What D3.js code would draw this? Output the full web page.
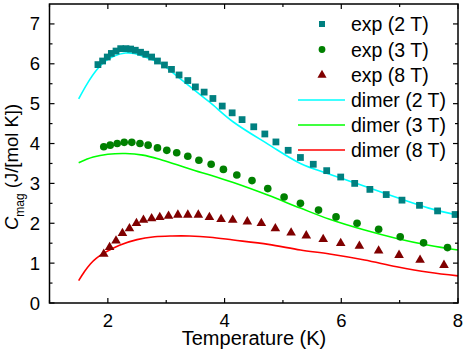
<!DOCTYPE html>
<html>
<head>
<meta charset="utf-8">
<script src="https://cdn.jsdelivr.net/npm/d3@7"></script>
<style>
  body { margin: 0; background: #fff; }
  text { font-family: "Liberation Sans", Arial, sans-serif; fill: #000; }
</style>
</head>
<body>
<script>
// experimental points (T in K, C in J/[mol K])
var exp2T_T = [1.83,1.91,1.99,2.06,2.14,2.22,2.31,2.39,2.47,2.56,2.65,2.75,2.85,2.97,3.09,3.22,3.37,3.50,3.65,3.80,3.96,4.13,4.30,4.50,4.69,4.88,5.09,5.30,5.52,5.75,5.99,6.23,6.49,6.77,7.04,7.34,7.65,7.95];
var exp2T_C = [5.98,6.07,6.17,6.26,6.32,6.38,6.38,6.37,6.34,6.29,6.24,6.17,6.07,5.97,5.86,5.72,5.58,5.42,5.29,5.13,4.94,4.77,4.60,4.42,4.24,4.04,3.83,3.65,3.48,3.32,3.16,3.00,2.85,2.72,2.58,2.45,2.31,2.22];

var exp3T_T = [1.93,2.04,2.16,2.28,2.41,2.55,2.69,2.85,3.01,3.18,3.37,3.56,3.77,3.98,4.21,4.47,4.74,5.02,5.30,5.61,5.91,6.27,6.64,7.01,7.41,7.82];
var exp3T_C = [3.92,3.96,4.00,4.03,4.03,4.00,3.96,3.89,3.83,3.77,3.68,3.58,3.48,3.35,3.21,3.07,2.87,2.66,2.50,2.33,2.16,2.00,1.85,1.66,1.51,1.39];

var exp8T_T = [1.93,2.03,2.14,2.25,2.37,2.49,2.61,2.75,2.89,3.04,3.20,3.37,3.55,3.74,3.94,4.14,4.39,4.63,4.87,5.14,5.40,5.69,5.99,6.31,6.64,6.99,7.35,7.76];
var exp8T_C = [1.23,1.40,1.56,1.75,1.87,2.00,2.08,2.12,2.15,2.18,2.21,2.21,2.21,2.15,2.10,2.08,2.04,2.00,1.87,1.76,1.69,1.60,1.50,1.43,1.31,1.20,1.08,0.95];

// dimer model curves
var dim2T_T = [1.5,1.65,1.8,1.95,2.1,2.3,2.45,2.6,2.9,3.2,3.5,3.75,4.15,4.75,5.3,5.8,6.4,7.0,7.5,8.0];
var dim2T_C = [5.12,5.51,5.83,6.06,6.19,6.27,6.26,6.19,6.01,5.67,5.32,5.03,4.54,3.98,3.50,3.23,2.93,2.62,2.38,2.20];

var dim3T_T = [1.5,1.75,2.0,2.3,2.6,2.9,3.2,3.5,3.75,4.15,4.75,5.3,5.8,6.4,6.95,7.5,8.0];
var dim3T_C = [3.52,3.66,3.73,3.75,3.71,3.60,3.46,3.32,3.21,3.02,2.70,2.38,2.10,1.83,1.62,1.45,1.33];

var dim8T_T = [1.5,1.6,1.7,1.8,1.93,2.2,2.5,2.8,3.1,3.4,3.75,4.15,4.75,5.3,5.8,6.4,6.95,7.5,8.0];
var dim8T_C = [0.56,0.79,0.98,1.12,1.25,1.45,1.59,1.66,1.68,1.68,1.65,1.58,1.47,1.33,1.23,1.08,0.91,0.77,0.68];

var xTicks = [2,4,6,8];
var yTicks = [0,1,2,3,4,5,6,7];
var legendLabels = ["exp (2 T)","exp (3 T)","exp (8 T)","dimer (2 T)","dimer (3 T)","dimer (8 T)"];

var W = 469, H = 351;
var mLeft = 49.5, mRight = 458, mTop = 4, mBottom = 303;

var svg = d3.select("body").append("svg")
  .attr("width", W).attr("height", H);

var x = d3.scaleLinear().domain([1, 8]).range([mLeft, mRight]);
var y = d3.scaleLinear().domain([0, 7.5]).range([mBottom, mTop]);

function zip(a, b) { return a.map(function(v, i) { return [v, b[i]]; }); }

var plot = svg.append("g");

// model lines
var line = d3.line()
  .x(function(d) { return x(d[0]); })
  .y(function(d) { return y(d[1]); })
  .curve(d3.curveCatmullRom.alpha(0.5));

[[dim2T_T, dim2T_C, "#00ffff"], [dim3T_T, dim3T_C, "#00ff00"], [dim8T_T, dim8T_C, "#ff0000"]]
  .forEach(function(s) {
    plot.append("path")
      .datum(zip(s[0], s[1]))
      .attr("d", line)
      .attr("fill", "none")
      .attr("stroke", s[2])
      .attr("stroke-width", 1.6);
  });

// symbols
var sq = d3.symbol().type(d3.symbolSquare).size(46);
var ci = d3.symbol().type(d3.symbolCircle).size(46);
var tr = d3.symbol().type(d3.symbolTriangle).size(40);

function points(T, C, sym, color) {
  plot.append("g").selectAll("path")
    .data(zip(T, C))
    .enter().append("path")
    .attr("d", sym)
    .attr("transform", function(d) { return "translate(" + x(d[0]) + "," + y(d[1]) + ")"; })
    .attr("fill", color);
}
points(exp2T_T, exp2T_C, sq, "#008080");
points(exp3T_T, exp3T_C, ci, "#008000");
points(exp8T_T, exp8T_C, tr, "#800000");

// axes with inward ticks on all sides
var xMinor = [1,3,5,7];
var yMinor = d3.range(0.5, 7.5, 1);

function ticksX(yPos, dir) {
  var g = svg.append("g");
  xTicks.forEach(function(t) {
    g.append("line").attr("x1", x(t)).attr("x2", x(t))
      .attr("y1", yPos).attr("y2", yPos + dir * 5);
  });
  xMinor.forEach(function(t) {
    g.append("line").attr("x1", x(t)).attr("x2", x(t))
      .attr("y1", yPos).attr("y2", yPos + dir * 3);
  });
  g.selectAll("line").attr("stroke", "#000").attr("stroke-width", 1.2);
}
function ticksY(xPos, dir) {
  var g = svg.append("g");
  yTicks.forEach(function(t) {
    g.append("line").attr("y1", y(t)).attr("y2", y(t))
      .attr("x1", xPos).attr("x2", xPos + dir * 5);
  });
  yMinor.forEach(function(t) {
    g.append("line").attr("y1", y(t)).attr("y2", y(t))
      .attr("x1", xPos).attr("x2", xPos + dir * 3);
  });
  g.selectAll("line").attr("stroke", "#000").attr("stroke-width", 1.2);
}
ticksX(mBottom, -1);
ticksX(mTop, 1);
ticksY(mLeft, 1);
ticksY(mRight, -1);

svg.append("rect")
  .attr("x", mLeft).attr("y", mTop)
  .attr("width", mRight - mLeft).attr("height", mBottom - mTop)
  .attr("fill", "none").attr("stroke", "#000").attr("stroke-width", 1.5);

// tick labels
svg.append("g").selectAll("text")
  .data(xTicks).enter().append("text")
  .attr("x", function(d) { return x(d); })
  .attr("y", 327)
  .attr("text-anchor", "middle")
  .attr("font-size", 18.5)
  .text(function(d) { return d; });

svg.append("g").selectAll("text")
  .data(yTicks).enter().append("text")
  .attr("x", 40)
  .attr("y", function(d) { return y(d) + 6.5; })
  .attr("text-anchor", "end")
  .attr("font-size", 18.5)
  .text(function(d) { return d; });

// axis titles
svg.append("text")
  .attr("x", 254).attr("y", 345)
  .attr("text-anchor", "middle")
  .attr("font-size", 20)
  .text("Temperature (K)");

var yl = svg.append("text")
  .attr("transform", "translate(18,167) rotate(-90)")
  .attr("text-anchor", "middle")
  .attr("font-size", 18.5);
yl.append("tspan").attr("font-style", "italic").text("C");
yl.append("tspan").attr("font-size", 12).attr("dy", 6).text("mag");
yl.append("tspan").attr("dy", -6).text(" (J/[mol K])");

// legend
var lg = svg.append("g");
var rowY = [24, 49.5, 75, 100, 125, 150];
var legSyms = [[sq, "#008080"], [ci, "#008000"], [tr, "#800000"]];
legSyms.forEach(function(s, i) {
  lg.append("path").attr("d", s[0].size(36)())
    .attr("transform", "translate(322," + rowY[i] + ")")
    .attr("fill", s[1]);
});
["#00ffff", "#00ff00", "#ff0000"].forEach(function(c, i) {
  lg.append("line").attr("x1", 298).attr("x2", 345)
    .attr("y1", rowY[i + 3]).attr("y2", rowY[i + 3])
    .attr("stroke", c).attr("stroke-width", 1.6);
});
lg.selectAll("text").data(legendLabels).enter().append("text")
  .attr("x", 351)
  .attr("y", function(d, i) { return rowY[i] + 7; })
  .attr("font-size", 19.5)
  .text(function(d) { return d; });
</script>
</body>
</html>
